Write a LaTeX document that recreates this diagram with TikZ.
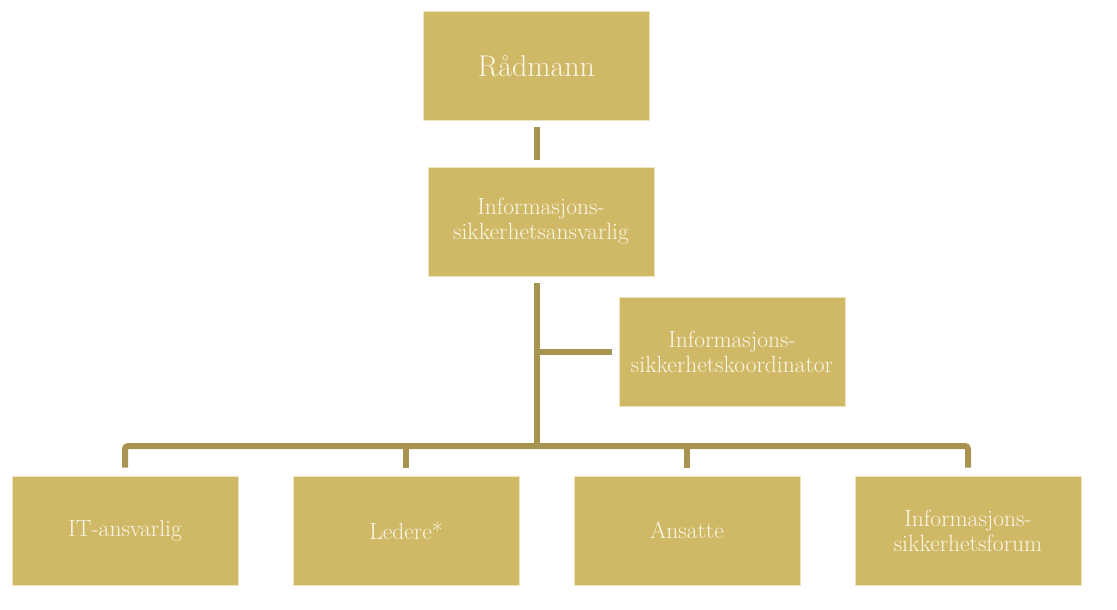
\documentclass[tikz,border=0pt]{standalone}
\usepackage{tikz}
\usetikzlibrary{calc}
\definecolor{gold}{HTML}{CFB966}
\definecolor{goldline}{HTML}{A89450}
\definecolor{cream}{HTML}{FBF6E8}
\definecolor{rim}{HTML}{EFE4BF}

\begin{document}
\begin{tikzpicture}[x=1pt,y=-1pt,
  unit/.style={draw=rim,line width=0.8pt,fill=gold,text=cream,minimum width=226pt,
               minimum height=109pt,inner sep=0pt,align=center,
               font=\fontsize{23.5}{25}\selectfont},
  conn/.style={draw=goldline,line width=6pt}]
  \useasboundingbox (0,0) rectangle (1117,610);
  % top of the chart
  \node[unit,font=\fontsize{30}{34}\selectfont] (rad) at (536.5,66) {Rådmann};
  \node[unit] (ansv) at (541,221.5) {Informasjons-\\sikkerhetsansvarlig};
  \node[unit] (koord) at (732,351.5) {Informasjons-\\sikkerhetskoordinator};
  % bottom row
  \node[unit] (it)    at (125,530.5) {IT-ansvarlig};
  \node[unit] (led)   at (406,530.5) {Ledere*};
  \node[unit] (ans)   at (687,530.5) {Ansatte};
  \node[unit] (forum) at (968,530.5) {Informasjons-\\sikkerhetsforum};
  \coordinate (bus) at (537,446);
  \draw[conn,shorten <=6pt,shorten >=7pt] (rad.south -| bus) -- (ansv.north -| bus);
  \draw[conn,shorten <=7pt] (ansv.south -| bus) -- (bus);
  \draw[conn,shorten >=7pt] (koord.west -| bus) -- (koord.west);
  \draw[conn,rounded corners=3pt,shorten <=8pt,shorten >=8pt]
       (it.north) -- (it.north |- bus) -- (forum.north |- bus) -- (forum.north);
  \foreach \b in {led,ans} \draw[conn,shorten >=8pt] (\b.north |- bus) -- (\b.north);
\end{tikzpicture}
\end{document}
